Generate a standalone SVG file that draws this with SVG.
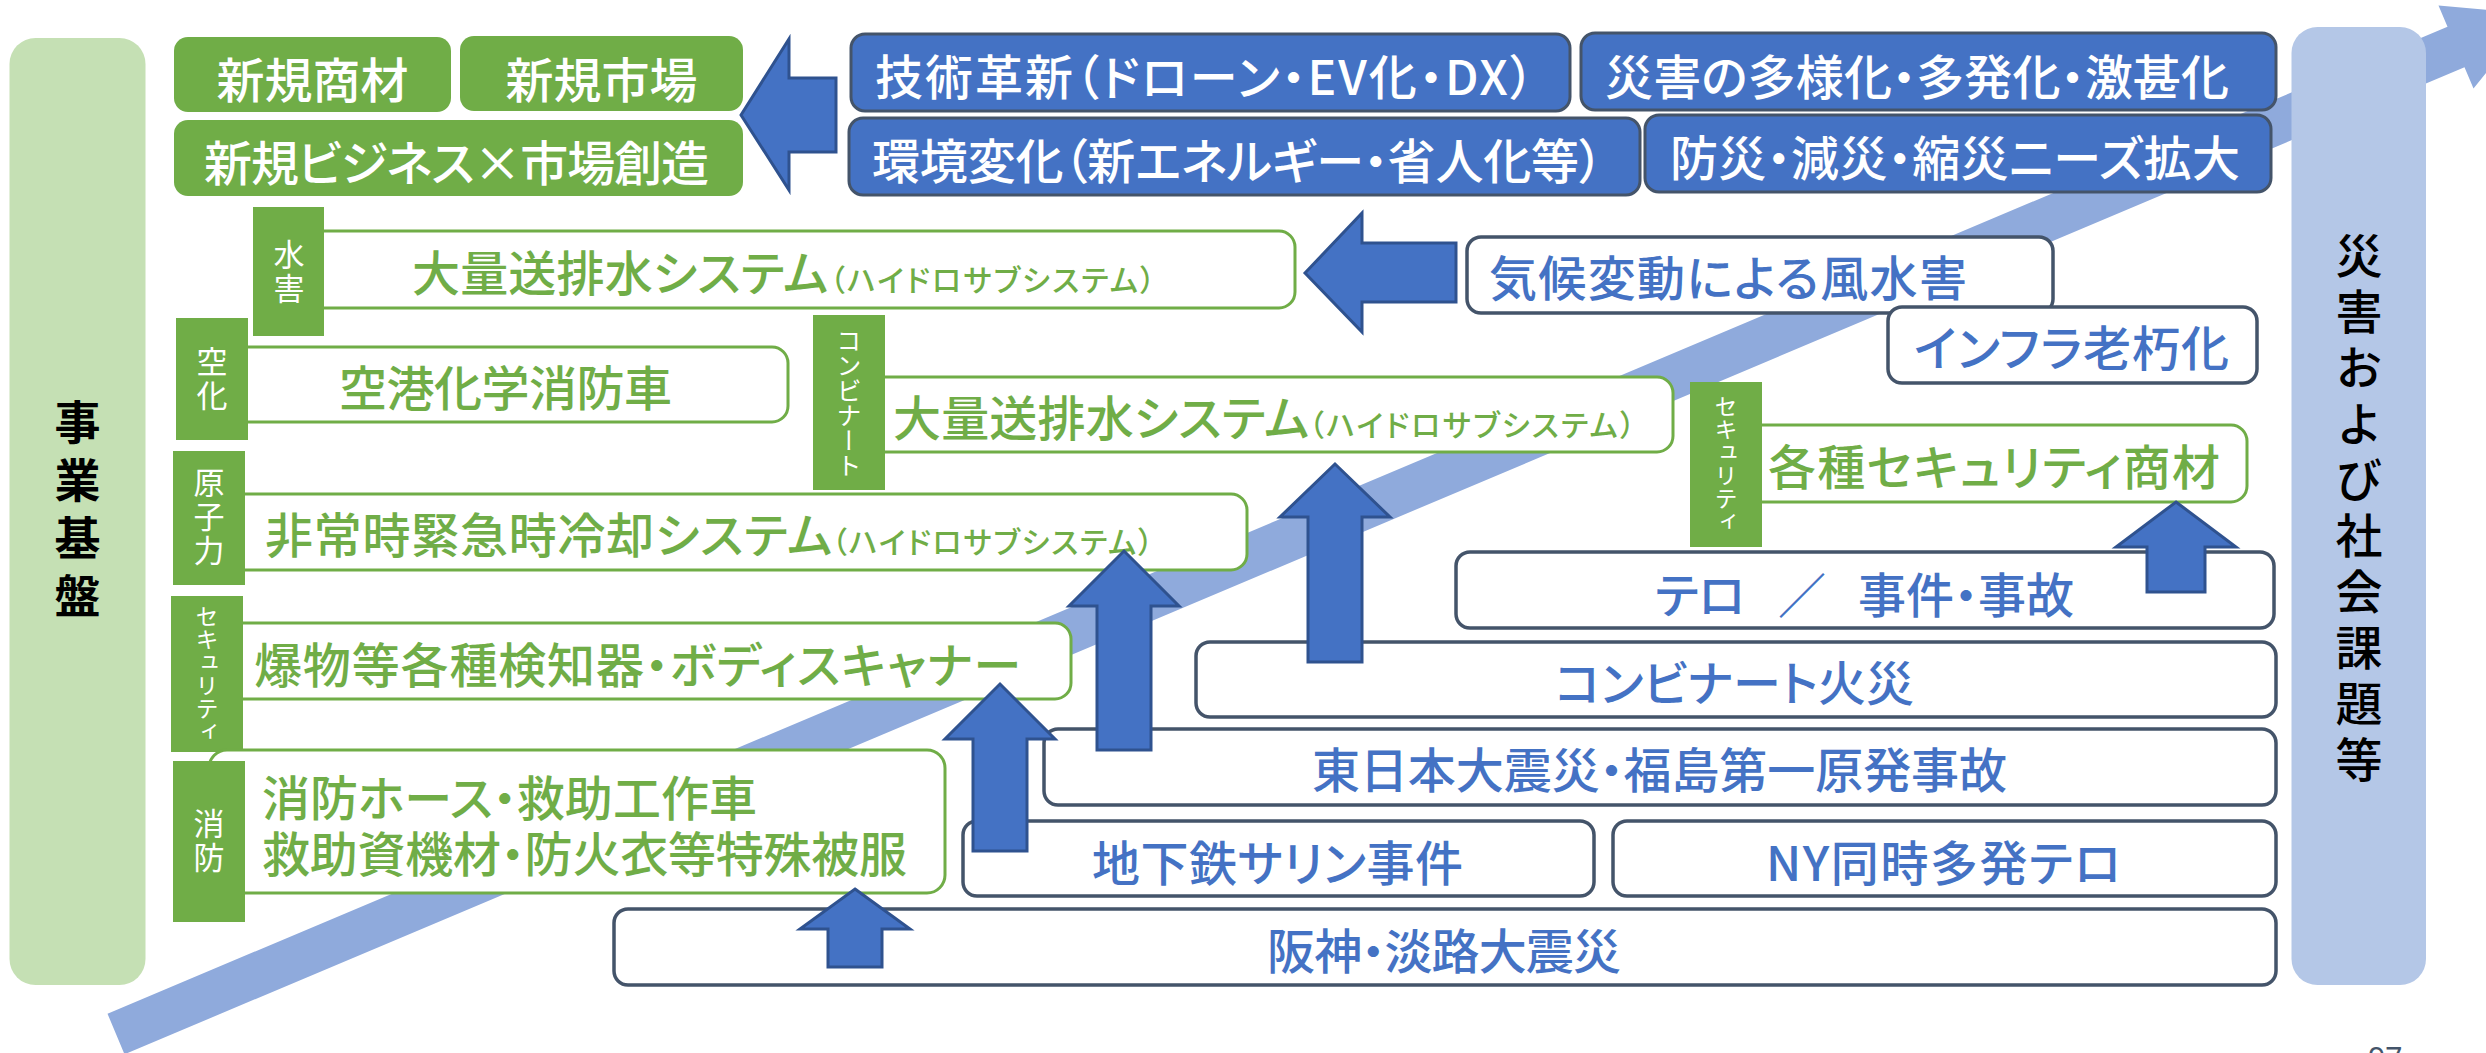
<svg xmlns="http://www.w3.org/2000/svg" width="2486" height="1053" viewBox="0 0 2486 1053">
<defs>
<style>
.t{font-family:"Noto Sans CJK JP","Noto Sans",sans-serif;font-feature-settings:"palt";font-weight:500;}
.lg{font-size:48px;}
.sm{font-size:30px;}
.wt{fill:#ffffff;}
.gt{fill:#70AD47;}
.bt{fill:#4472C4;}
.gfill{fill:#70AD47;}
.bbox{fill:#4472C4;stroke:#44546A;stroke-width:3;}
.wbox{fill:#ffffff;stroke:#44546A;stroke-width:3.5;}
.gbox{fill:#ffffff;stroke:#70AD47;stroke-width:3;}
.tag{fill:#70AD47;}
.vt{font-family:"Noto Sans CJK JP","Noto Sans",sans-serif;writing-mode:vertical-rl;text-anchor:middle;fill:#ffffff;}
.k{font-size:31px;letter-spacing:3px;}
.kana{font-size:23px;}
.arr{fill:#4472C4;stroke:#2F528F;stroke-width:3;stroke-linejoin:miter;}
</style>
</defs>
<rect width="2486" height="1053" fill="#ffffff"/>

<g id="trend-band">
<polygon points="107.5,1013.7 2447.5,26.7 2438.5,5.5 2534,14 2473.5,88.5 2464.5,67.3 124.5,1054.3" fill="#8FAADC"/>
</g>

<g id="bar-business">
<rect x="9.5" y="38" width="136" height="947" rx="26" fill="#C5E0B4"/>
<text x="77.5" y="515" style="font-family:'Noto Sans CJK JP',sans-serif;writing-mode:vertical-rl;text-anchor:middle;font-size:46px;font-weight:700;letter-spacing:12px;fill:#000">事業基盤</text>
</g>

<g id="bar-social">
<rect x="2291.5" y="27" width="134.5" height="958" rx="26" fill="#B4C7E7"/>
<text x="2359" y="512" style="font-family:'Noto Sans CJK JP',sans-serif;writing-mode:vertical-rl;text-anchor:middle;font-size:47px;font-weight:500;letter-spacing:9px;fill:#000">災害および社会課題等</text>
</g>

<g id="n-new-goods">
<rect x="174" y="37" width="277" height="75" rx="14" class="gfill"/>
<text x="312.5" y="98" text-anchor="middle" class="t lg wt">新規商材</text>
</g>
<g id="n-new-market">
<rect x="460" y="36" width="283" height="75" rx="14" class="gfill"/>
<text x="601.5" y="98" text-anchor="middle" class="t lg wt">新規市場</text>
</g>
<g id="n-new-business">
<rect x="174" y="120" width="569" height="76" rx="14" class="gfill"/>
<text x="204" y="181" textLength="505" class="t lg wt">新規ビジネス×市場創造</text>
</g>

<g id="n-tech">
<rect x="851" y="34" width="719" height="77" rx="14" class="bbox"/>
<text x="875" y="95" textLength="659" class="t lg wt">技術革新（ドローン・EV化・DX）</text>
</g>
<g id="n-disaster-diverse">
<rect x="1581" y="33" width="695" height="77" rx="14" class="bbox"/>
<text x="1605" y="95" textLength="624" class="t lg wt">災害の多様化・多発化・激甚化</text>
</g>
<g id="n-env">
<rect x="849" y="118" width="791" height="77" rx="14" class="bbox"/>
<text x="872" y="179" textLength="731" class="t lg wt">環境変化（新エネルギー・省人化等）</text>
</g>
<g id="n-needs">
<rect x="1645" y="115" width="626" height="77" rx="14" class="bbox"/>
<text x="1670" y="176" textLength="570" class="t lg wt">防災・減災・縮災ニーズ拡大</text>
</g>

<g id="n-climate">
<rect x="1467" y="237" width="586" height="76" rx="14" class="wbox"/>
<text x="1489" y="296" textLength="478" class="t lg bt">気候変動による風水害</text>
</g>
<g id="n-infra">
<rect x="1888" y="307" width="369" height="76" rx="14" class="wbox"/>
<text x="1914" y="366" textLength="315" class="t lg bt">インフラ老朽化</text>
</g>
<g id="n-terror">
<rect x="1456" y="552" width="818" height="76" rx="14" class="wbox"/>
<text y="613" class="t lg bt"><tspan x="1655">テロ</tspan><tspan x="1778">／</tspan><tspan x="1858">事件・事故</tspan></text>
</g>
<g id="n-kombinat-fire">
<rect x="1196" y="642" width="1080" height="75" rx="14" class="wbox"/>
<text x="1555" y="701" textLength="359" class="t lg bt">コンビナート火災</text>
</g>
<g id="n-east-japan">
<rect x="1044" y="729" width="1232" height="76" rx="14" class="wbox"/>
<text x="1312" y="788" textLength="695" class="t lg bt">東日本大震災・福島第一原発事故</text>
</g>
<g id="n-sarin">
<rect x="963" y="821" width="631" height="75" rx="14" class="wbox"/>
<text x="1092" y="881" textLength="371" class="t lg bt">地下鉄サリン事件</text>
</g>
<g id="n-ny">
<rect x="1613" y="821" width="663" height="75" rx="14" class="wbox"/>
<text x="1766" y="881" textLength="355" class="t lg bt">NY同時多発テロ</text>
</g>
<g id="n-hanshin">
<rect x="614" y="909" width="1662" height="76" rx="14" class="wbox"/>
<text x="1267" y="969" textLength="354" class="t lg bt">阪神・淡路大震災</text>
</g>

<g id="n-flood-pump">
<rect x="290" y="231" width="1005" height="77" rx="16" class="gbox"/>
<text x="412" y="291" textLength="416" class="t lg gt">大量送排水システム</text>
<text x="830" y="291" textLength="325" class="t sm gt">（ハイドロサブシステム）</text>
<rect x="253" y="207" width="71" height="129" class="tag"/>
<text x="289" y="273" class="vt k">水害</text>
</g>
<g id="n-airport">
<rect x="215" y="347" width="573" height="75" rx="16" class="gbox"/>
<text x="339" y="406" textLength="333" class="t lg gt">空港化学消防車</text>
<rect x="176" y="318" width="72" height="122" class="tag"/>
<text x="212" y="380" class="vt k">空化</text>
</g>
<g id="n-kombinat-pump">
<rect x="850" y="377" width="823" height="75" rx="16" class="gbox"/>
<text x="893" y="436" textLength="416" class="t lg gt">大量送排水システム</text>
<text x="1309" y="436" textLength="326" class="t sm gt">（ハイドロサブシステム）</text>
<rect x="813" y="315" width="72" height="175" class="tag"/>
<text x="849" y="403" class="vt kana" style="font-size:25px">コンビナート</text>
</g>
<g id="n-security-goods">
<rect x="1730" y="425" width="517" height="77" rx="16" class="gbox"/>
<text x="1768" y="485" textLength="452" class="t lg gt">各種セキュリティ商材</text>
<rect x="1690" y="382" width="72" height="165" class="tag"/>
<text x="1726" y="464" class="vt kana">セキュリティ</text>
</g>
<g id="n-cooling">
<rect x="210" y="494" width="1037" height="76" rx="16" class="gbox"/>
<text x="265" y="553" textLength="567" class="t lg gt">非常時緊急時冷却システム</text>
<text x="832" y="553" textLength="321" class="t sm gt">（ハイドロサブシステム）</text>
<rect x="173" y="451" width="72" height="134" class="tag"/>
<text x="209" y="518" class="vt k">原子力</text>
</g>
<g id="n-detector">
<rect x="210" y="623" width="861" height="76" rx="16" class="gbox"/>
<text x="254" y="683" textLength="767" class="t lg gt">爆物等各種検知器・ボディスキャナー</text>
<rect x="171" y="596" width="72" height="156" class="tag"/>
<text x="207" y="674" class="vt kana">セキュリティ</text>
</g>
<g id="n-firefighting">
<rect x="209" y="750" width="736" height="143" rx="18" class="gbox"/>
<text class="t lg gt"><tspan x="262" y="816" textLength="495">消防ホース・救助工作車</tspan><tspan x="262" y="872" textLength="645">救助資機材・防火衣等特殊被服</tspan></text>
<rect x="173" y="761" width="72" height="161" class="tag"/>
<text x="209" y="842" class="vt k">消防</text>
</g>

<g id="connectors">
<polygon class="arr" points="741,115 789,39 789,78 836,78 836,152 789,152 789,190"/>
<polygon class="arr" points="1305,273 1362,213 1362,243 1456,243 1456,302 1362,302 1362,332"/>
<polygon class="arr" points="855,889 910,929 882,929 882,967 828,967 828,929 800,929"/>
<polygon class="arr" points="1000,684 1055,739 1027,739 1027,851 973,851 973,739 945,739"/>
<polygon class="arr" points="1124,551 1179,606 1151,606 1151,750 1097,750 1097,606 1069,606"/>
<polygon class="arr" points="1335,464 1390,517 1362,517 1362,662 1308,662 1308,517 1280,517"/>
<polygon class="arr" points="2176,502 2236,547 2205,547 2205,592 2147,592 2147,547 2116,547"/>
</g>

<text x="2368" y="1069" style="font-family:'Noto Sans',sans-serif;font-size:30px;fill:#44546A">97</text>
</svg>
